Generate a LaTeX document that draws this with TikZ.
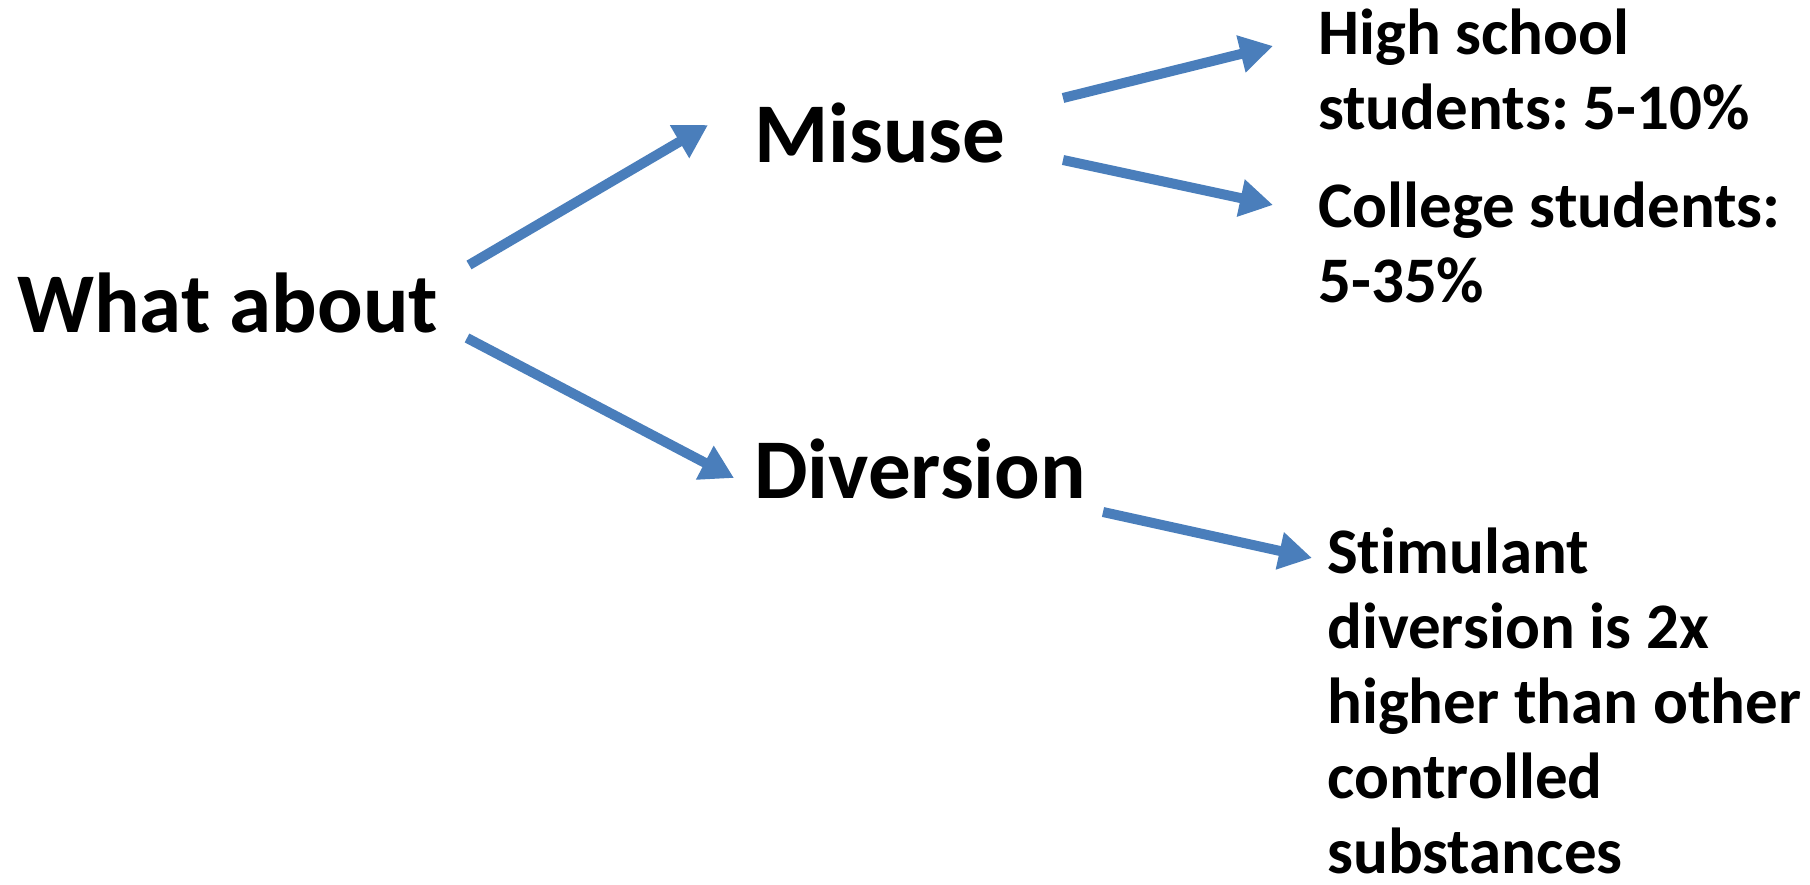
\documentclass[tikz,border=0pt]{standalone}
\usepackage{fontspec}
\setmainfont{Carlito}[RawFeature={-liga}]
\usetikzlibrary{arrows.meta}
\definecolor{arrowblue}{HTML}{4A7EBB}
\frenchspacing
\begin{document}
\begin{tikzpicture}[x=1pt,y=-1pt,
  big/.style={inner sep=0pt,anchor=base west,font=\fontsize{85}{100}\selectfont\bfseries},
  small/.style={inner sep=0pt,anchor=base west,align=left,font=\fontsize{65}{75}\selectfont\bfseries},
  conn/.style={draw=arrowblue,line width=10pt,-{Triangle[width=36pt,length=33pt]}}]
\useasboundingbox (0,0) rectangle (1810,885);
\node[big] (what) at (17,333) {What about};
\node[big] (misuse) at (754,163) {Misuse};
\node[big] (diversion) at (754,498) {Diversion};
\node[small] (high) at (1318,130) {High school\\students: 5-10\%};
\node[small] (college) at (1318,303) {College students:\\5-35\%};
\node[small] (stim) at (1327,873) {Stimulant\\diversion is 2x\\higher than other\\controlled\\substances};
\coordinate (w1) at (469,265);
\coordinate (m1) at (708,125);
\coordinate (w2) at (467,338);
\coordinate (d1) at (734,478);
\coordinate (m2) at (1063,98);
\coordinate (h1) at (1273,46);
\coordinate (m3) at (1063,160);
\coordinate (c1) at (1273,205);
\coordinate (d2) at (1103,512);
\coordinate (s1) at (1312,558);
\draw[conn] (w1) -- (m1);
\draw[conn] (w2) -- (d1);
\draw[conn] (m2) -- (h1);
\draw[conn] (m3) -- (c1);
\draw[conn] (d2) -- (s1);
\end{tikzpicture}
\end{document}
